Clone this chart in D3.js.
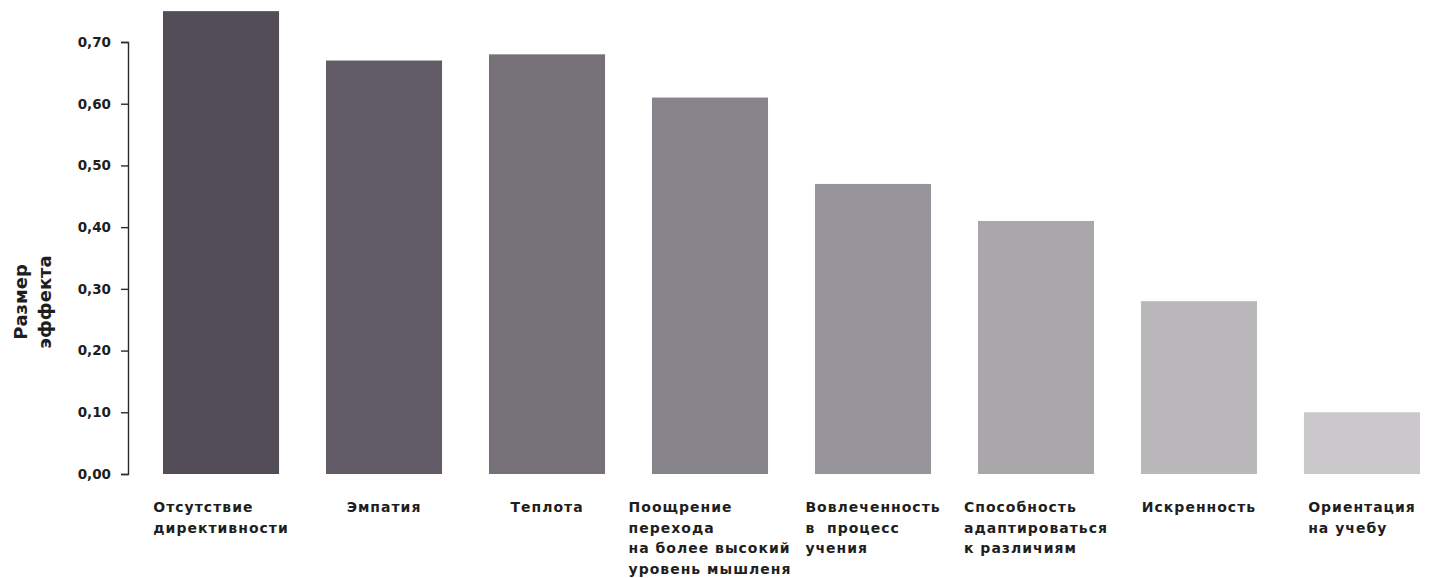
<!DOCTYPE html>
<html>
<head>
<meta charset="utf-8">
<script src="https://cdn.jsdelivr.net/npm/d3@7/dist/d3.min.js"></script>
<style>
  html, body { margin: 0; padding: 0; background: #ffffff; }
  svg { display: block; }
  .lbl { font-family: "DejaVu Sans", sans-serif; font-weight: bold; fill: #1e1e1e; white-space: pre; }
</style>
</head>
<body>
<svg id="chart" width="1432" height="578"></svg>
<script>
// Category labels, one entry per bar, split into display lines
const categories = [
  ["Отсутствие", "директивности"],
  ["Эмпатия"],
  ["Теплота"],
  ["Поощрение", "перехода", "на более высокий", "уровень мышленя"],
  ["Вовлеченность", "в  процесс", "учения"],
  ["Способность", "адаптироваться", "к различиям"],
  ["Искренность"],
  ["Ориентация", "на учебу"]
];

// Effect size per category
const effectSizes = [0.75, 0.67, 0.68, 0.61, 0.47, 0.41, 0.28, 0.10];

// Bar fills, dark to light
const barColors = ["#524d57", "#625c68", "#767179", "#88848c", "#98949b", "#aaa7ab", "#bbb8bc", "#cbc8cc"];

// Y axis ticks
const yTicks = [0, 0.1, 0.2, 0.3, 0.4, 0.5, 0.6, 0.7];
const yTitle = ["Размер", "эффекта"];

const svg = d3.select("#chart");

const x = d3.scaleBand()
  .domain(d3.range(categories.length))
  .range([163, 1420])
  .paddingInner(0.288)
  .paddingOuter(0);

const y = d3.scaleLinear()
  .domain([0, 0.7])
  .range([474, 42]);

const ru = d3.formatLocale({ decimal: ",", thousands: " ", grouping: [3], currency: ["", ""] });
const fmt = ru.format(".2f");

// Bars
svg.append("g")
  .selectAll("rect")
  .data(effectSizes)
  .join("rect")
  .attr("x", (d, i) => x(i))
  .attr("y", d => y(d))
  .attr("width", x.bandwidth())
  .attr("height", d => y(0) - y(d))
  .attr("fill", (d, i) => barColors[i]);

// Y axis
const yAxis = svg.append("g")
  .attr("transform", "translate(128,0)")
  .call(d3.axisLeft(y).tickValues(yTicks).tickFormat(fmt).tickSize(7).tickSizeOuter(7).tickPadding(10));

yAxis.select(".domain").attr("stroke", "#2a2a2a").attr("stroke-width", 1.4);
yAxis.selectAll(".tick line").attr("stroke", "#2a2a2a").attr("stroke-width", 1.4);
yAxis.selectAll(".tick text")
  .attr("class", "lbl")
  .style("font-size", "13.5px")
  .attr("dy", "0.32em");

// Y axis title, two rotated lines
const title = svg.append("text")
  .attr("class", "lbl")
  .attr("transform", "translate(27,302) rotate(-90)")
  .attr("text-anchor", "middle")
  .style("font-size", "18px");
title.selectAll("tspan")
  .data(yTitle)
  .join("tspan")
  .attr("x", 0)
  .attr("y", (d, i) => i * 24)
  .text(d => d);

// Category labels: left-aligned blocks centred under each bar
const labelGroups = svg.append("g")
  .selectAll("g")
  .data(categories)
  .join("g");

labelGroups.each(function (lines, i) {
  const g = d3.select(this);
  const t = g.append("text")
    .attr("class", "lbl")
    .style("font-size", "14px")
    .style("letter-spacing", "1px");
  t.selectAll("tspan")
    .data(lines)
    .join("tspan")
    .attr("x", 0)
    .attr("y", (d, k) => 512 + k * 20.5)
    .text(d => d);
  let maxW = 0;
  t.selectAll("tspan").each(function () {
    maxW = Math.max(maxW, this.getComputedTextLength());
  });
  g.attr("transform", `translate(${x(i) + x.bandwidth() / 2 - maxW / 2},0)`);
});
</script>
</body>
</html>
